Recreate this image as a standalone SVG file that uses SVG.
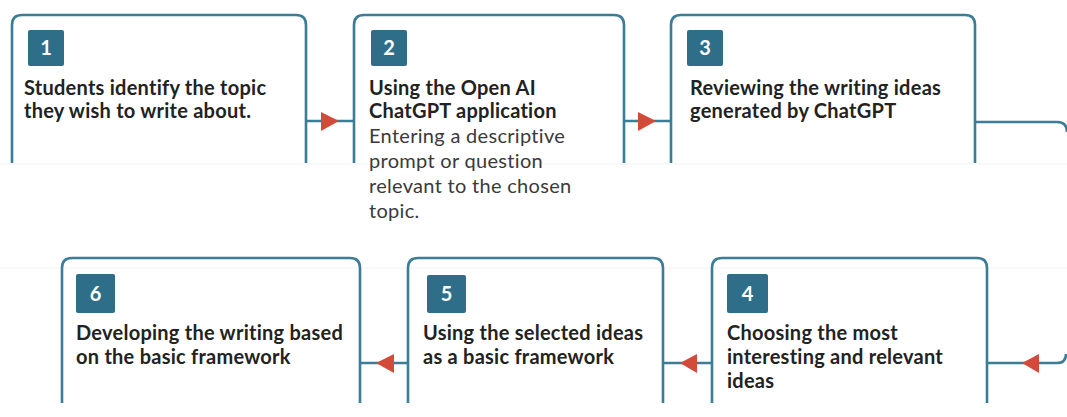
<svg xmlns="http://www.w3.org/2000/svg" width="1067" height="417" viewBox="0 0 1067 417">
<style>
.box{fill:none;stroke:#3b7c97;stroke-width:2.6}
.con{fill:none;stroke:#3b7c97;stroke-width:2.6}
.badge{fill:#2e6e88}
.num{font-family:Lato,"Liberation Sans",sans-serif;font-weight:700;font-size:20px;fill:#ffffff;text-anchor:middle}
.t{font-family:Lato,"Liberation Sans",sans-serif;font-weight:700;font-size:20px;letter-spacing:0.25px;fill:#222222}
.r{font-family:Lato,"Liberation Sans",sans-serif;font-weight:400;font-size:20px;letter-spacing:0.3px;fill:#3a3a3a}
.arr{fill:#d24b3a}
.seam{stroke:#f2f2f2;stroke-width:1}
</style>
<rect width="1067" height="417" fill="#ffffff"/>
<line class="seam" x1="0" y1="164" x2="1067" y2="164"/>
<line class="seam" x1="0" y1="268" x2="1067" y2="268"/>
<g id="connectors">
<line class="con" x1="306" y1="121" x2="354" y2="121"/>
<polygon class="arr" points="321,112 339,121 321,131"/>
<line class="con" x1="624" y1="121" x2="670" y2="121"/>
<polygon class="arr" points="638,112 656,121 638,131"/>
<path class="con" d="M975,122 H1057 Q1067,122 1067,132"/>
<path class="con" d="M987,363 H1057 Q1066,363 1066,354"/>
<polygon class="arr" points="1039,354 1022,363 1039,373"/>
<line class="con" x1="663" y1="363" x2="712" y2="363"/>
<polygon class="arr" points="697,354 680,363 697,373"/>
<line class="con" x1="360" y1="363" x2="408" y2="363"/>
<polygon class="arr" points="394,354 376,363 394,373"/>
</g>
<g id="node1">
<path class="box" d="M12,163 V25 Q12,15 22,15 H296 Q306,15 306,25 V163"/>
<rect class="badge" x="28" y="30" width="36" height="36" rx="2"/>
<text class="num" x="46" y="55">1</text>
<text class="t" x="24" y="95">Students identify the topic</text>
<text class="t" x="24" y="118">they wish to write about.</text>
</g>
<g id="node2">
<path class="box" d="M354,163 V25 Q354,15 364,15 H614 Q624,15 624,25 V163"/>
<rect class="badge" x="371" y="30" width="36" height="36" rx="2"/>
<text class="num" x="389" y="55">2</text>
<text class="t" x="369" y="95">Using the Open AI</text>
<text class="t" x="369" y="118">ChatGPT application</text>
<text class="r" x="369" y="143">Entering a descriptive</text>
<text class="r" x="369" y="168">prompt or question</text>
<text class="r" x="369" y="193">relevant to the chosen</text>
<text class="r" x="369" y="218">topic.</text>
</g>
<g id="node3">
<path class="box" d="M671,163 V25 Q671,15 681,15 H965 Q975,15 975,25 V163"/>
<rect class="badge" x="687" y="30" width="36" height="36" rx="2"/>
<text class="num" x="705" y="55">3</text>
<text class="t" x="690" y="95">Reviewing the writing ideas</text>
<text class="t" x="690" y="118">generated by ChatGPT</text>
</g>
<g id="node4">
<path class="box" d="M712,403 V268 Q712,258 722,258 H977 Q987,258 987,268 V403"/>
<rect class="badge" x="727" y="274" width="41" height="39" rx="2"/>
<text class="num" x="747.5" y="301">4</text>
<text class="t" x="727" y="340">Choosing the most</text>
<text class="t" x="727" y="364">interesting and relevant</text>
<text class="t" x="727" y="388">ideas</text>
</g>
<g id="node5">
<path class="box" d="M408,403 V268 Q408,258 418,258 H653 Q663,258 663,268 V403"/>
<rect class="badge" x="427" y="275" width="39" height="38" rx="2"/>
<text class="num" x="446.5" y="301">5</text>
<text class="t" x="423" y="340">Using the selected ideas</text>
<text class="t" x="423" y="364">as a basic framework</text>
</g>
<g id="node6">
<path class="box" d="M62,403 V268 Q62,258 72,258 H350 Q360,258 360,268 V403"/>
<rect class="badge" x="76" y="274" width="39" height="39" rx="2"/>
<text class="num" x="95.5" y="301">6</text>
<text class="t" x="76" y="340">Developing the writing based</text>
<text class="t" x="76" y="364">on the basic framework</text>
</g>
</svg>
